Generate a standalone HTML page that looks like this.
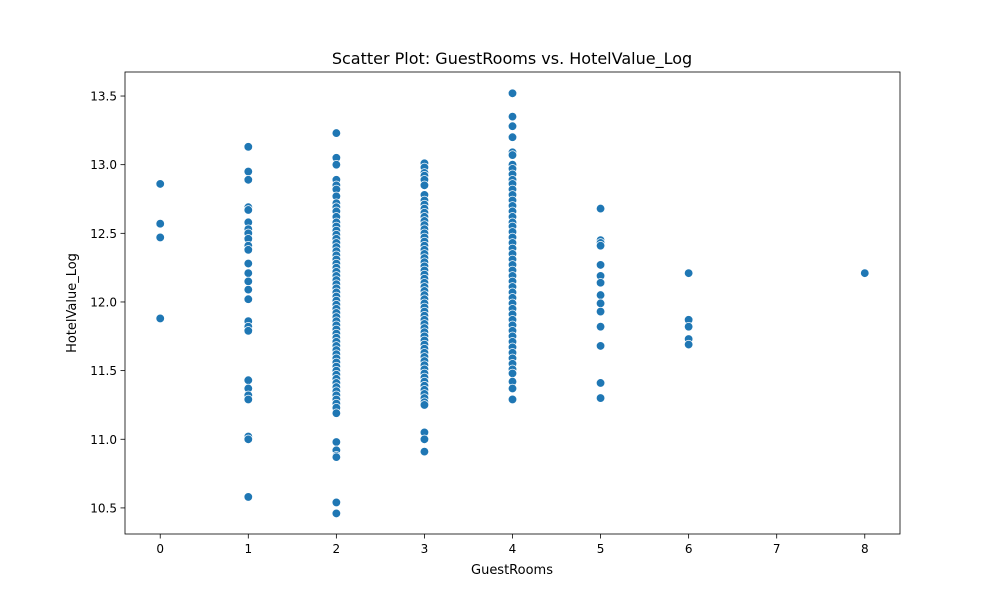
<!DOCTYPE html>
<html><head><meta charset="utf-8"><style>
body{margin:0;background:#fff;font-family:"Liberation Sans","DejaVu Sans",sans-serif}
svg text{font-family:"DejaVu Sans","Liberation Sans",sans-serif}
</style></head><body>
<svg id="chart" width="1000" height="600" xmlns="http://www.w3.org/2000/svg">
<rect width="1000" height="600" fill="#fff"/>
<text x="512" y="64" font-size="16" text-anchor="middle">Scatter Plot: GuestRooms vs. HotelValue_Log</text>
<g id="points"></g>
<rect x="125" y="72" width="775" height="462" fill="none" stroke="#000" stroke-width="0.8"/>
<g id="xticks"></g>
<g id="yticks"></g>
<text x="512" y="574" font-size="13" text-anchor="middle">GuestRooms</text>
<text transform="translate(76,303) rotate(-90)" font-size="13" text-anchor="middle">HotelValue_Log</text>
</svg>
<script>
const xTicks = [0,1,2,3,4,5,6,7,8];
const yTicks = [10.5,11.0,11.5,12.0,12.5,13.0,13.5];
const col0 = [12.86,12.57,12.47,11.88];
const col1 = [13.13,12.95,12.89,12.69,12.67,12.58,12.53,12.50,12.46,12.41,12.38,12.28,12.21,12.15,12.09,12.02,11.86,11.82,11.79,11.43,11.37,11.32,11.29,11.02,11.00,10.58];
const col2 = [13.23,13.05,13.00,12.89,12.85,12.82,12.77,12.72,12.69,12.66,12.62,12.58,12.55,12.52,12.49,12.46,12.43,12.40,12.37,12.34,12.31,12.28,12.25,12.22,12.19,12.16,12.13,12.10,12.07,12.04,12.01,11.98,11.95,11.92,11.89,11.86,11.83,11.80,11.77,11.74,11.71,11.68,11.65,11.62,11.59,11.56,11.53,11.50,11.47,11.44,11.41,11.38,11.35,11.32,11.29,11.26,11.23,11.19,10.98,10.92,10.88,10.87,10.54,10.46];
const col3 = [13.01,12.98,12.94,12.92,12.89,12.85,12.78,12.74,12.71,12.68,12.65,12.62,12.59,12.56,12.53,12.50,12.47,12.44,12.41,12.38,12.35,12.32,12.29,12.26,12.23,12.20,12.17,12.14,12.11,12.08,12.05,12.02,11.99,11.96,11.93,11.90,11.87,11.84,11.81,11.78,11.75,11.72,11.69,11.66,11.63,11.60,11.57,11.54,11.51,11.48,11.45,11.42,11.39,11.36,11.33,11.30,11.27,11.25,11.05,11.00,10.91];
const col4 = [13.52,13.35,13.28,13.20,13.09,13.07,13.00,12.97,12.93,12.89,12.86,12.82,12.78,12.74,12.70,12.66,12.62,12.58,12.55,12.51,12.47,12.43,12.39,12.35,12.31,12.27,12.23,12.19,12.15,12.11,12.07,12.03,11.99,11.95,11.91,11.87,11.83,11.79,11.75,11.71,11.67,11.63,11.59,11.55,11.51,11.48,11.42,11.37,11.29];
const col5 = [12.68,12.45,12.43,12.41,12.27,12.19,12.14,12.05,11.99,11.93,11.82,11.68,11.41,11.30];
const col6 = [12.21,11.87,11.82,11.73,11.69];
const col7 = [];
const col8 = [12.21];
const columns = [col0,col1,col2,col3,col4,col5,col6,col7,col8];
const NS="http://www.w3.org/2000/svg";
const xs = v => 125 + (v + 0.4) / 8.8 * 775;
const ys = v => 534 - (v - 10.31) / (13.675 - 10.31) * 462;
function mk(t,a){const e=document.createElementNS(NS,t);for(const k in a)e.setAttribute(k,a[k]);return e;}
const pg=document.getElementById('points');
columns.forEach((col,i)=>col.forEach(v=>{
  const c=mk('circle',{cx:xs(i),cy:ys(v),r:4.3,fill:'#1f77b4',stroke:'#fff','stroke-width':0.75});
  
  
  pg.appendChild(c);
}));
const xg=document.getElementById('xticks');
xTicks.forEach(t=>{
  const l=mk('line',{x1:xs(t),x2:xs(t),y1:534,y2:538.5,stroke:'#000','stroke-width':0.8});
  
  
  xg.appendChild(l);
  const tx=mk('text',{x:xs(t),y:553,'font-size':12,'text-anchor':'middle'});
  
  
  tx.textContent=t;xg.appendChild(tx);
});
const yg=document.getElementById('yticks');
yTicks.forEach(t=>{
  const l=mk('line',{x1:120.5,x2:125,y1:ys(t),y2:ys(t),stroke:'#000','stroke-width':0.8});
  
  
  yg.appendChild(l);
  const tx=mk('text',{x:117,y:ys(t)+4.5,'font-size':12,'text-anchor':'end'});
  
  
  tx.textContent=t.toFixed(1);yg.appendChild(tx);
});
</script>
</body></html>
